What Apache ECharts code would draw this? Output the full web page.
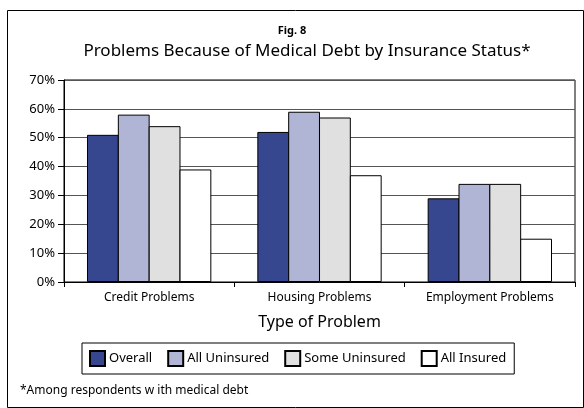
<!DOCTYPE html>
<html>
<head>
<meta charset="utf-8">
<script src="https://cdn.jsdelivr.net/npm/echarts@6/dist/echarts.min.js"></script>
<style>
  html, body { margin: 0; padding: 0; background: #fff; }
  #chart { width: 584px; height: 408px; }
</style>
</head>
<body>
<div id="chart"></div>
<script>
var categories = ["Credit Problems", "Housing Problems", "Employment Problems"];
var overall = [51, 52, 29];
var allUninsured = [58, 59, 34];
var someUninsured = [54, 57, 34];
var allInsured = [39, 37, 15];
var seriesNames = ["Overall", "All Uninsured", "Some Uninsured", "All Insured"];
var colors = ["#36478f", "#b0b5d6", "#e0e0e0", "#ffffff"];

var font = "Noto Sans";
var myChart = echarts.init(document.getElementById("chart"));

function bar(name, data, color) {
  return {
    name: name,
    type: "bar",
    data: data,
    barGap: "-3%",
    barCategoryGap: "27%",
    itemStyle: { color: color, borderColor: "#000", borderWidth: 1 }
  };
}

var option = {
  backgroundColor: "#fff",
  animation: false,
  textStyle: { fontFamily: font },
  title: [
    {
      text: "Fig. 8",
      left: "center",
      top: 20,
      textStyle: { fontFamily: font, fontSize: 11, fontWeight: "bold", color: "#000" }
    },
    {
      text: "Problems Because of Medical Debt by Insurance Status*",
      left: 302,
      textAlign: "center",
      top: 38,
      textStyle: { fontFamily: font, fontSize: 17, fontWeight: "normal", color: "#000" }
    },
    {
      text: "*Among respondents w ith medical debt",
      left: 15,
      top: 380,
      textStyle: { fontFamily: font, fontSize: 12, fontWeight: "normal", color: "#000" }
    }
  ],
  legend: {
    data: seriesNames,
    left: 82,
    top: 343,
    padding: [7, 8, 7, 7],
    borderColor: "#000",
    borderWidth: 1,
    itemWidth: 15,
    itemHeight: 15,
    itemGap: 15,
    icon: "rect",
    textStyle: { fontFamily: font, fontSize: 13, color: "#000", padding: [0, 0, 0, -1] }
  },
  grid: { left: 64, right: 9, top: 80, bottom: 126, show: true, borderColor: "#000", borderWidth: 1, containLabel: false },
  xAxis: {
    type: "category",
    data: categories,
    name: "Type of Problem",
    nameLocation: "middle",
    nameGap: 32,
    nameTextStyle: { fontFamily: font, fontSize: 16, color: "#000" },
    axisLine: { lineStyle: { color: "#000" } },
    axisTick: { show: true, length: 5, lineStyle: { color: "#000" } },
    axisLabel: { fontFamily: font, fontSize: 12, color: "#000", margin: 10 }
  },
  yAxis: {
    type: "value",
    min: 0,
    max: 70,
    interval: 10,
    axisLine: { show: true, lineStyle: { color: "#000" } },
    axisTick: { show: true, length: 6, lineStyle: { color: "#000" } },
    axisLabel: {
      fontFamily: font, fontSize: 13, color: "#000", margin: 9,
      verticalAlign: "middle", padding: [0, 0, 8, 0],
      formatter: "{value}%"
    },
    splitLine: { lineStyle: { color: "#555", width: 1 } }
  },
  graphic: [
    {
      type: "rect",
      shape: { x: 7.5, y: 10.5, width: 576, height: 397 },
      style: { fill: null, stroke: "#000", lineWidth: 1 },
      silent: true
    }
  ],
  series: [
    bar(seriesNames[0], overall, colors[0]),
    bar(seriesNames[1], allUninsured, colors[1]),
    bar(seriesNames[2], someUninsured, colors[2]),
    bar(seriesNames[3], allInsured, colors[3])
  ]
};

myChart.setOption(option);
window.addEventListener("resize", function () {
  myChart.resize();
});
</script>
</body>
</html>
